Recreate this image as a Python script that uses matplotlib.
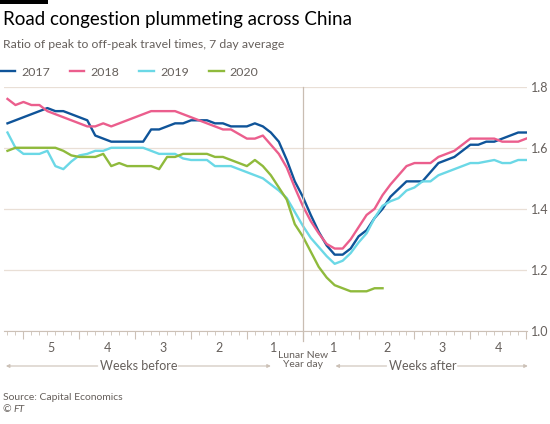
import matplotlib
matplotlib.use("Agg")
import matplotlib.pyplot as plt
from matplotlib.patches import Rectangle

plt.rcParams['font.family'] = ['Lato', 'DejaVu Sans']

# days relative to Lunar New Year
days = list(range(-37, 29))
days_2020 = list(range(-37, 11))

y2017 = [1.68, 1.69, 1.70, 1.71, 1.72, 1.73, 1.72, 1.72, 1.71, 1.70,
         1.69, 1.64, 1.63, 1.62, 1.62, 1.62, 1.62, 1.62, 1.66, 1.66,
         1.67, 1.68, 1.68, 1.69, 1.69, 1.69, 1.68, 1.68, 1.67, 1.67,
         1.67, 1.68, 1.67, 1.65, 1.62, 1.56, 1.49, 1.44, 1.38, 1.325,
         1.28, 1.25, 1.25, 1.27, 1.31, 1.33, 1.37, 1.40, 1.44, 1.465,
         1.49, 1.49, 1.49, 1.52, 1.55, 1.56, 1.57, 1.59, 1.61, 1.61,
         1.62, 1.62, 1.63, 1.64, 1.65, 1.65]
y2018 = [1.76, 1.74, 1.75, 1.74, 1.74, 1.72, 1.71, 1.70, 1.69, 1.68,
         1.67, 1.67, 1.68, 1.67, 1.68, 1.69, 1.70, 1.71, 1.72, 1.72,
         1.72, 1.72, 1.71, 1.70, 1.69, 1.68, 1.67, 1.66, 1.66, 1.645,
         1.63, 1.63, 1.64, 1.61, 1.58, 1.535, 1.47, 1.41, 1.36, 1.32,
         1.285, 1.27, 1.27, 1.30, 1.34, 1.38, 1.40, 1.445, 1.48, 1.51,
         1.54, 1.55, 1.55, 1.55, 1.57, 1.58, 1.59, 1.61, 1.63, 1.63,
         1.63, 1.63, 1.62, 1.62, 1.62, 1.63]
y2019 = [1.65, 1.60, 1.58, 1.58, 1.58, 1.59, 1.54, 1.53, 1.555, 1.575,
         1.58, 1.59, 1.59, 1.60, 1.60, 1.60, 1.60, 1.60, 1.59, 1.58,
         1.58, 1.58, 1.565, 1.56, 1.56, 1.56, 1.54, 1.54, 1.54, 1.53,
         1.52, 1.51, 1.50, 1.48, 1.46, 1.435, 1.39, 1.345, 1.305, 1.275,
         1.245, 1.22, 1.23, 1.255, 1.29, 1.32, 1.37, 1.41, 1.425, 1.435,
         1.46, 1.47, 1.49, 1.49, 1.51, 1.52, 1.53, 1.54, 1.55, 1.55,
         1.555, 1.56, 1.55, 1.55, 1.56, 1.56]
y2020 = [1.59, 1.60, 1.60, 1.60, 1.60, 1.60, 1.60, 1.59, 1.575, 1.57,
         1.57, 1.57, 1.58, 1.54, 1.55, 1.54, 1.54, 1.54, 1.54, 1.53,
         1.57, 1.57, 1.58, 1.58, 1.58, 1.58, 1.57, 1.57, 1.56, 1.55,
         1.54, 1.56, 1.54, 1.51, 1.47, 1.43, 1.35, 1.31, 1.26, 1.21,
         1.175, 1.15, 1.14, 1.13, 1.13, 1.13, 1.14, 1.14]

years = ["2017", "2018", "2019", "2020"]
colors = ["#0f5499", "#eb5e8d", "#6bd8e6", "#8fba3c"]

week_labels = ["5", "4", "3", "2", "1", "1", "2", "3", "4"]
week_pos = [-31.5, -24.5, -17.5, -10.5, -3.7, 3.9, 10.5, 17.5, 24.5]

grid_c = "#e9dfd6"
axis_c = "#ccc1b7"
text_c = "#66605c"

fig = plt.figure(figsize=(5.5, 4.24), dpi=100)
ax = fig.add_axes([3.5 / 550, 1 - 331 / 424, 523.5 / 550, (331 - 86.7) / 424])

for x, y, c, lab in zip([days, days, days, days_2020],
                        [y2017, y2018, y2019, y2020], colors, years):
    ax.plot(x, y, color=c, lw=1.7, label=lab, solid_joinstyle="round")

ax.set_xlim(-37.5, 28.1)
ax.set_ylim(1.0, 1.8)

# y axis on the right
ax.yaxis.tick_right()
ax.set_yticks([1.0, 1.2, 1.4, 1.6, 1.8])
ax.set_yticklabels(["1.0", "1.2", "1.4", "1.6", "1.8"])
ax.tick_params(axis="y", length=0, pad=3, labelsize=9, labelcolor=text_c)
ax.grid(axis="y", color=grid_c, lw=0.9)
ax.set_axisbelow(True)

for s in ["top", "left", "right"]:
    ax.spines[s].set_visible(False)
ax.spines["bottom"].set_color(axis_c)

ax.set_xticks(range(-35, 29, 7))
ax.set_xticks(range(-37, 29), minor=True)
ax.tick_params(axis="x", which="major", length=6, color=axis_c, labelbottom=False)
ax.tick_params(axis="x", which="minor", length=3, color=axis_c)

# Lunar New Year line
ax.axvline(0, ymin=-0.04, ymax=1, color="#c9bdb2", lw=0.9, clip_on=False)

for p, lab in zip(week_pos, week_labels):
    ax.annotate(lab, xy=(p, 0), xycoords=("data", "axes fraction"),
                xytext=(0, -17), textcoords="offset pixels",
                ha="center", va="center", fontsize=9, color=text_c)

ax.annotate("Lunar New\nYear day", xy=(0, 0), xycoords=("data", "axes fraction"),
            xytext=(0, -29), textcoords="offset pixels",
            ha="center", va="center", fontsize=7.5, color=text_c, linespacing=1.1)

arrow_y = -35 / 244.3
arrows = [(-25.7, -37.2), (-15.6, -4.0), (10.5, 4.1), (19.4, 28.2)]
for x0, x1 in arrows:
    ax.annotate("", xy=(x1, arrow_y), xycoords=("data", "axes fraction"),
                xytext=(x0, arrow_y), textcoords=("data", "axes fraction"),
                arrowprops=dict(arrowstyle="-|>", color=axis_c, lw=0.8,
                                mutation_scale=5, shrinkA=0, shrinkB=0))

for x, lab in [(-20.5, "Weeks before"), (15.0, "Weeks after")]:
    ax.annotate(lab, xy=(x, arrow_y), xycoords=("data", "axes fraction"),
                ha="center", va="center", fontsize=9, color=text_c)

# header
fig.add_artist(Rectangle((0, 1 - 3.5 / 424), 48 / 550, 3.5 / 424,
                         transform=fig.transFigure, color="black", lw=0))
fig.text(3 / 550, 1 - 20 / 424, "Road congestion plummeting across China",
         fontsize=13.5, color="#000000", va="center", ha="left")
fig.text(3 / 550, 1 - 45 / 424, "Ratio of peak to off-peak travel times, 7 day average",
         fontsize=8.8, color=text_c, va="center", ha="left")

fig.legend(loc="center left", bbox_to_anchor=(0, 1 - 72 / 424), ncol=4,
           frameon=False, fontsize=8.9, handlelength=1.2, handletextpad=0.5,
           columnspacing=1.6, borderpad=0, borderaxespad=0, labelcolor=text_c)

fig.text(3 / 550, 1 - 397 / 424, "Source: Capital Economics",
         fontsize=7.5, color=text_c, va="center", ha="left")
fig.text(3 / 550, 1 - 410 / 424, "© ", fontsize=7.5, color=text_c, va="center", ha="left")
fig.text(13 / 550, 1 - 410 / 424, "FT", fontsize=7.5, color=text_c, va="center",
         ha="left", style="italic")

fig.savefig("out.png", dpi=100, facecolor="white")
